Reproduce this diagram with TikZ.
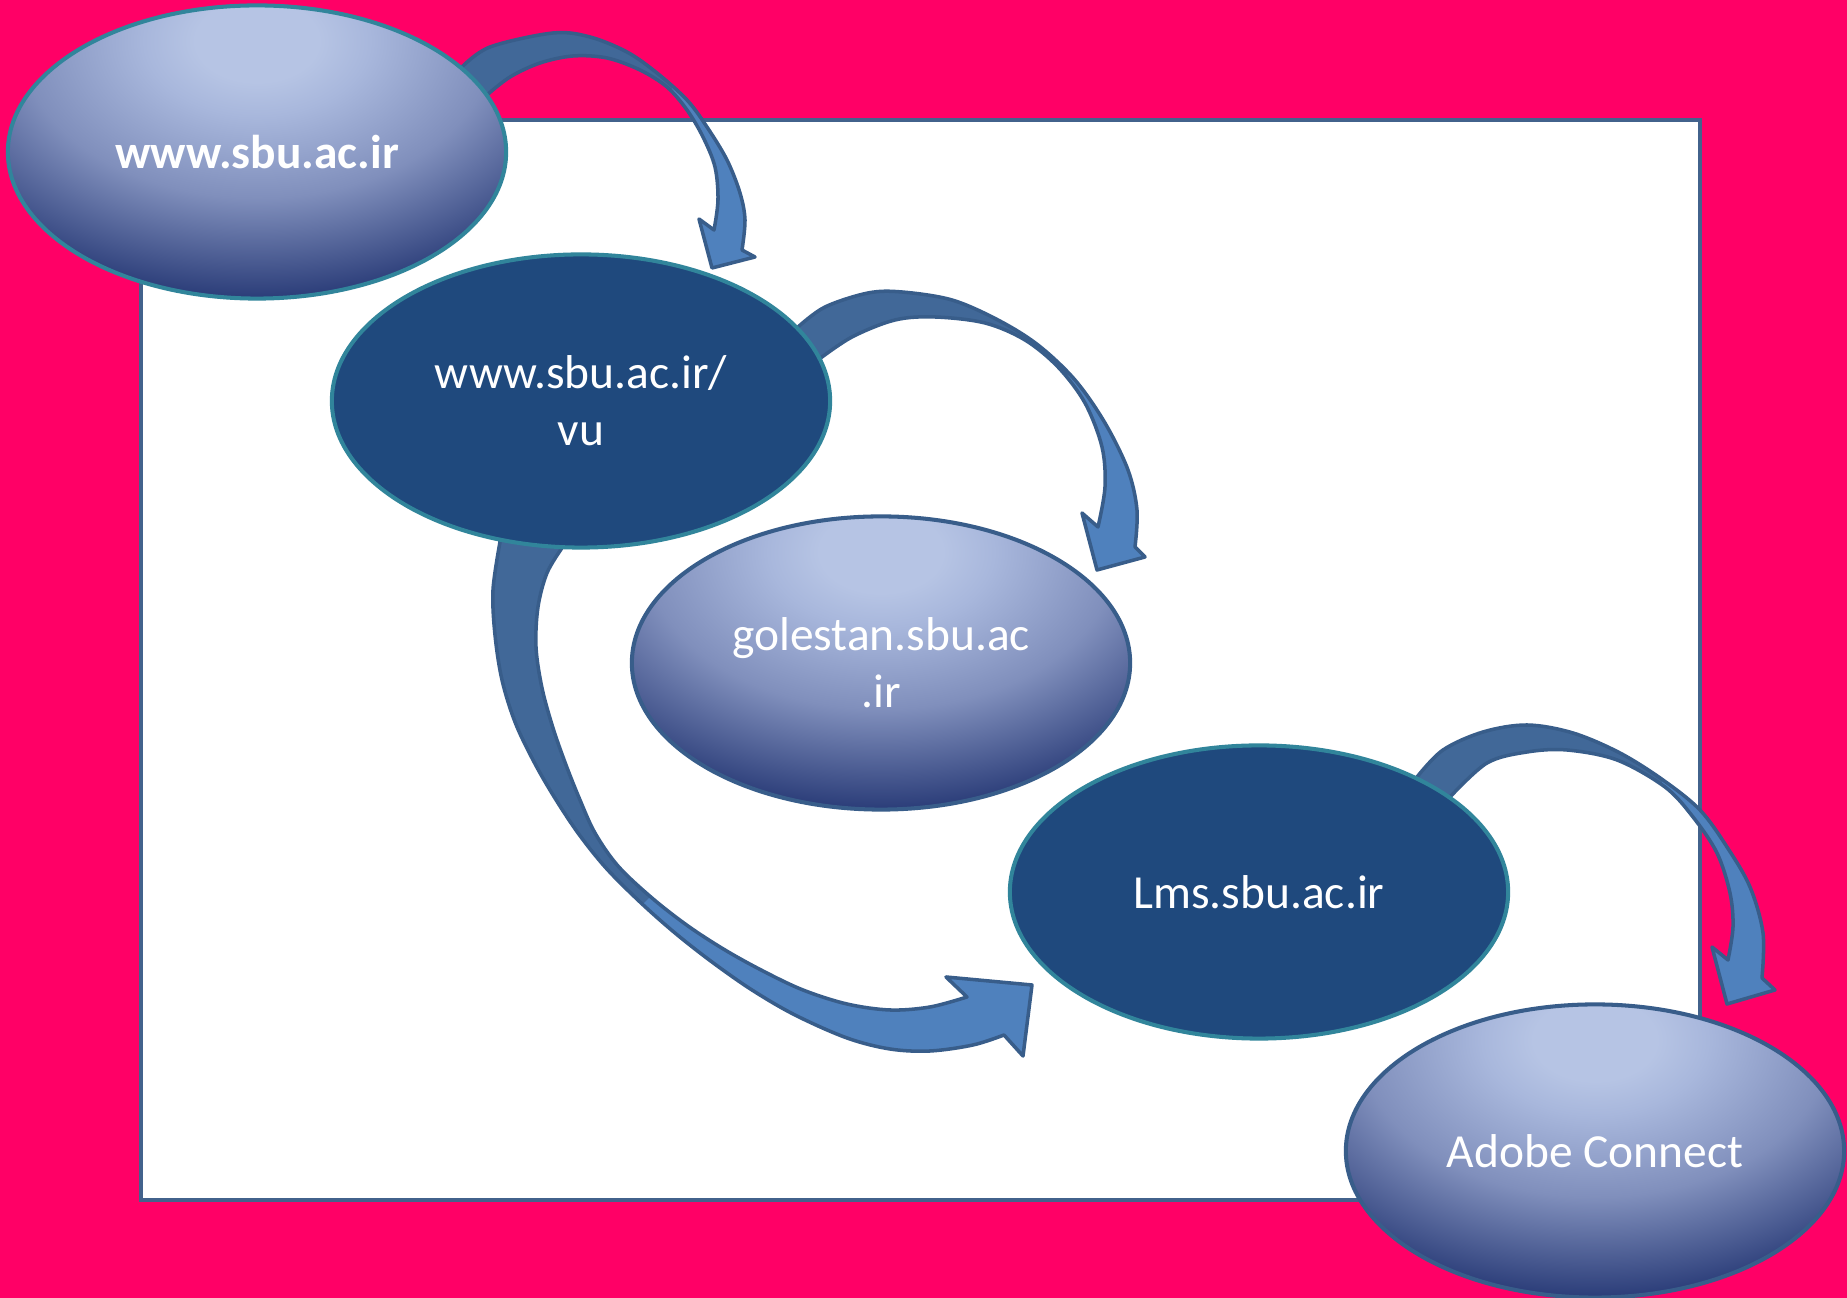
\documentclass[tikz,border=0pt]{standalone}
\usepackage{fontspec}
\setmainfont{Carlito}
\usetikzlibrary{shapes.geometric}
\definecolor{bgpink}{RGB}{255,0,102}
\definecolor{rectline}{RGB}{66,98,140}
\definecolor{tealline}{RGB}{49,133,155}
\definecolor{navyline}{RGB}{56,93,138}
\definecolor{solidfill}{RGB}{31,73,125}
\definecolor{arrowfront}{RGB}{79,129,189}
\definecolor{arrowback}{RGB}{65,104,152}
\definecolor{arrowline}{RGB}{56,93,138}
\definecolor{gL}{RGB}{182,196,228}
\definecolor{gL2}{RGB}{168,183,220}
\definecolor{gM}{RGB}{128,143,188}
\definecolor{gD}{RGB}{42,60,120}
\definecolor{gB}{RGB}{70,88,143}
\pgfdeclareradialshading{ellgradc}{\pgfpoint{0bp}{0bp}}{color(0bp)=(gL); color(3.5bp)=(gL); color(6.4bp)=(gL2); color(13.4bp)=(gM); color(22bp)=(gD); color(27.5bp)=(gD); color(32.5bp)=(gB); color(50bp)=(gB)}
\tikzset{
  ell/.style={ellipse, minimum width=4.98cm, minimum height=2.93cm, inner sep=0pt,
    line width=1.15pt, text=white, align=center, font=\fontsize{13.5}{16.2}\selectfont},
  gradfill/.style={path picture={\shade[shading=ellgradc]
      ([yshift=1.11cm]path picture bounding box.center) +(-4.4cm,-2.93cm) rectangle +(4.4cm,2.93cm);}},
  gradell/.style={ell, gradfill, draw=navyline},
  gradellteal/.style={ell, gradfill, draw=tealline},
  solidell/.style={ell, fill=solidfill, draw=tealline},
  arrowedge/.style={draw=arrowline, line width=1pt, line join=round},
  sm/.style={smooth, tension=0.55}
}
\def\arrowOne{plot[sm] coordinates {(462,67) (490,47) (553,33) (590,37) (627,52) (657,73) (687,100) (707,127) (727,160) (740,193) (745,220) (742,250)}
  -- (755,257) -- (712,268) -- (699,219) -- (714,230)
  -- plot[sm] coordinates {(714,230) (718,200) (715,167) (703,137) (687,110) (667,87) (640,70) (607,58) (573,56) (540,63) (510,77) (487,95)}
  -- (460,95) -- cycle}
\def\arrowTwo{plot[sm] coordinates {(798,327) (825,307) (868,293) (902,292) (952,300) (998,320) (1038,345) (1075,380) (1105,423) (1128,470) (1137,510) (1135,547)}
  -- (1145,557) -- (1097,570) -- (1082,513) -- (1098,527)
  -- plot[sm] coordinates {(1098,527) (1105,487) (1102,447) (1085,403) (1058,367) (1025,340) (985,323) (935,317) (895,320) (852,337) (818,360)}
  -- (790,345) -- cycle}
\def\arrowThree{plot[sm] coordinates {(500,542) (493,590) (495,635) (502,680) (515,722) (533,760) (553,795) (578,833) (606,868) (640,902) (675,933) (712,962) (752,990) (795,1015) (847,1038) (890,1049) (930,1051) (973,1045) (1004,1035)}
  -- (1023,1056) -- (1032,985) -- (946,977) -- (967,997)
  -- plot[sm] coordinates {(967,997) (930,1007) (890,1010) (847,1004) (803,990) (763,971) (725,950) (688,926) (652,898) (618,866) (595,833) (580,800) (566,765) (553,728) (542,688) (536,647) (538,607) (547,573) (562,548)}
  -- (565,525) -- (500,525) -- cycle}
\def\arrowFour{plot[sm] coordinates {(1417,777) (1443,750) (1483,732) (1527,725) (1573,733) (1620,753) (1663,780) (1700,810) (1727,847) (1750,887) (1763,933) (1762,978)}
  -- (1775,990) -- (1727,1004) -- (1712,947) -- (1728,960)
  -- plot[sm] coordinates {(1728,960) (1733,927) (1730,893) (1717,853) (1693,817) (1665,787) (1617,760) (1567,750) (1527,752) (1487,763) (1450,797)}
  -- (1420,800) -- cycle}
\begin{document}
\begin{tikzpicture}[x=0.01cm,y=-0.01cm]
\useasboundingbox (0,0) rectangle (1847,1298);
\fill[bgpink] (0,0) rectangle (1847,1298);
\draw[rectline, line width=1pt, fill=white] (141,120) rectangle (1700,1200);
% arrow 2
\fill[arrowfront] \arrowTwo;
\begin{scope}
  \clip (0,0) rectangle (1030,1298);
  \fill[arrowback] \arrowTwo;
\end{scope}
\draw[arrowedge] \arrowTwo;
% arrow 3
\fill[arrowfront] \arrowThree;
\begin{scope}
  \clip (0,0) -- (1547,0) -- (45,1502) -- (0,1502) -- cycle;
  \fill[arrowback] \arrowThree;
\end{scope}
\draw[arrowedge] \arrowThree;
% node 2
\node[solidell] (e2) at (581,401) {www.sbu.ac.ir/\\vu};
% arrow 1
\fill[arrowfront] \arrowOne;
\begin{scope}
  \clip (0,0) rectangle (672,1298);
  \fill[arrowback] \arrowOne;
\end{scope}
\draw[arrowedge] \arrowOne;
% node 1
\node[gradellteal, font=\fontsize{13.5}{16.2}\selectfont\bfseries] (e1) at (257,152) {www.sbu.ac.ir};
% arrow 4
\fill[arrowfront] \arrowFour;
\begin{scope}
  \clip (0,0) rectangle (1662,1298);
  \fill[arrowback] \arrowFour;
\end{scope}
\draw[arrowedge] \arrowFour;
% nodes 3-5
\node[gradell] (e3) at (881,663) {golestan.sbu.ac\\.ir};
\node[solidell] (e4) at (1259,892) {Lms.sbu.ac.ir};
\node[gradell] (e5) at (1595,1151) {Adobe Connect};
\end{tikzpicture}
\end{document}
